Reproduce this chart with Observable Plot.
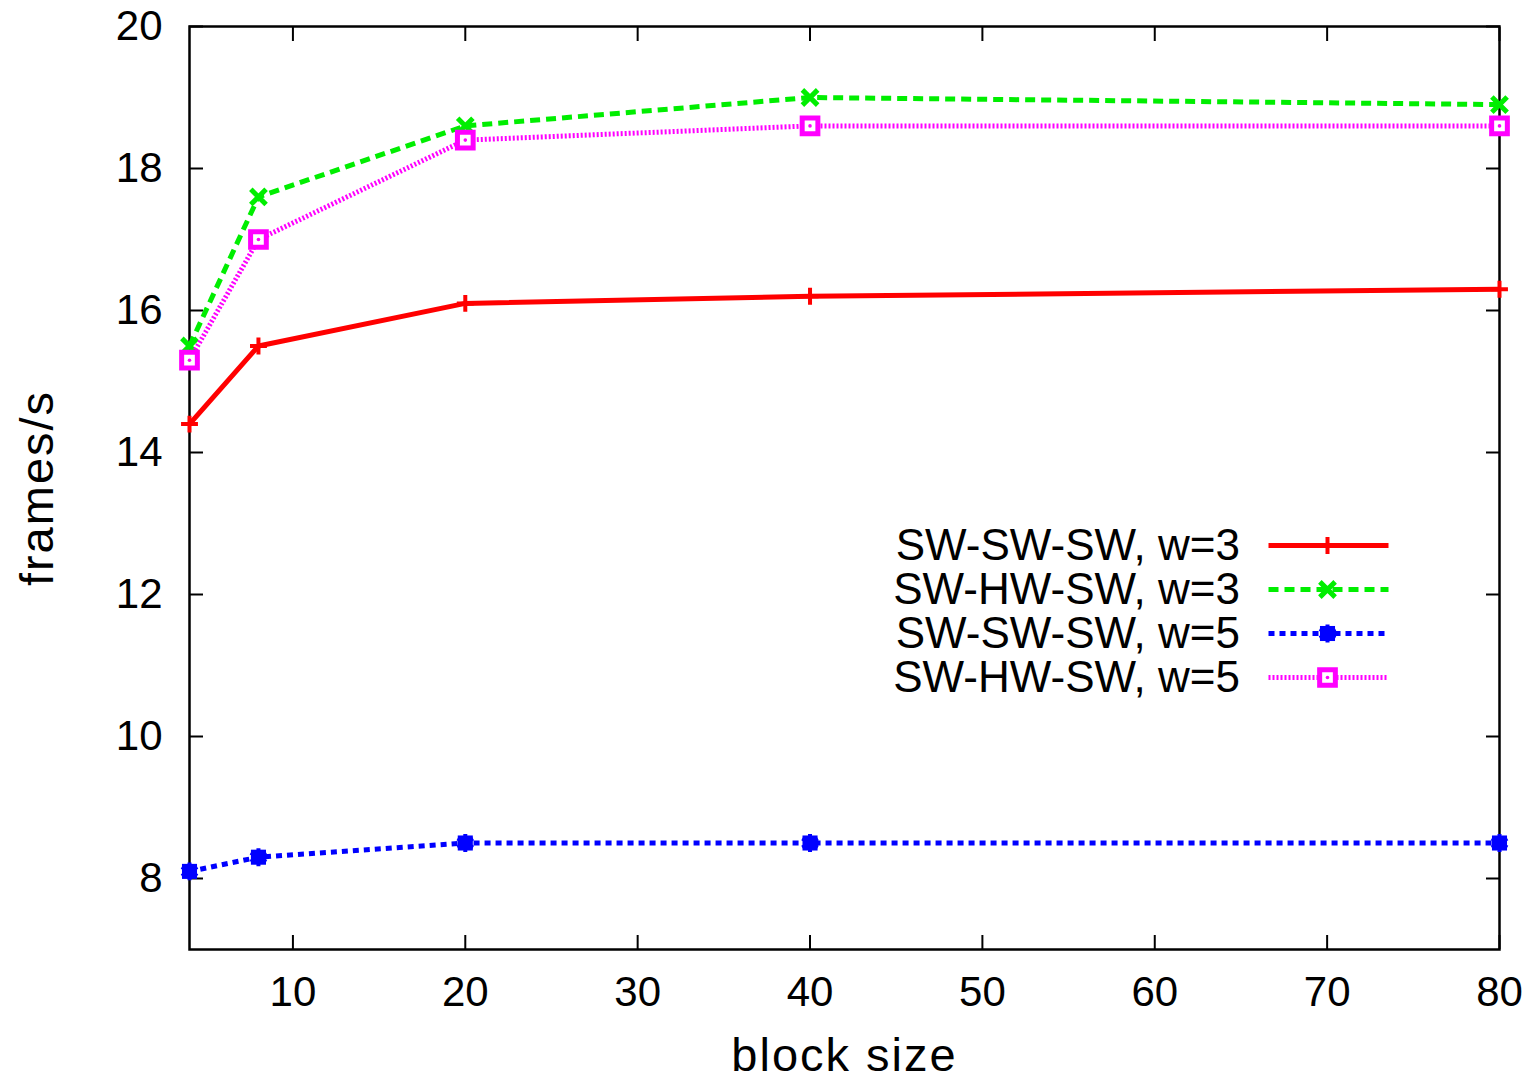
<!DOCTYPE html>
<html>
<head>
<meta charset="utf-8">
<script src="https://cdn.jsdelivr.net/npm/d3@7"></script>
<script src="https://cdn.jsdelivr.net/npm/@observablehq/plot@0.6"></script>
<style>
  body { margin: 0; background: #fff; }
  #wrap { position: relative; width: 1537px; height: 1083px; font-family: "Liberation Sans", Arial, sans-serif; }
  #legend { position: absolute; left: 0; top: 0; width: 1537px; height: 1083px; pointer-events: none; }
  .lrow { position: absolute; left: 0; width: 1240px; text-align: right; font-size: 44px; line-height: 38px; height: 38px; color: #000; }
</style>
</head>
<body>
<div id="wrap"></div>
<script>
// ---- data ----
const blockSize = [4, 8, 20, 40, 80];
const seriesNames = ["SW-SW-SW, w=3", "SW-HW-SW, w=3", "SW-SW-SW, w=5", "SW-HW-SW, w=5"];
const swSwSwW3 = [14.4, 15.5, 16.1, 16.2, 16.3];
const swHwSwW3 = [15.5, 17.6, 18.6, 19.0, 18.9];
const swSwSwW5 = [8.1, 8.3, 8.5, 8.5, 8.5];
const swHwSwW5 = [15.3, 17.0, 18.4, 18.6, 18.6];
const xTicks = [10, 20, 30, 40, 50, 60, 70, 80];
const yTicks = [8, 10, 12, 14, 16, 18, 20];
const xLabel = ["block size"];
const yLabel = ["frames/s"];

// ---- styles ----
const styles = [
  {color: "#ff0000", dash: null, width: 5},
  {color: "#00ee00", dash: "10,6", width: 5},
  {color: "#0000ff", dash: "6,5", width: 5},
  {color: "#ff00ff", dash: "2,2", width: 5}
];
const values = [swSwSwW3, swHwSwW3, swSwSwW5, swHwSwW5];
const rowsFor = (k) => blockSize.map((x, i) => ({x, y: values[k][i], s: seriesNames[k]}));

function markerMarks(k, data) {
  const c = styles[k].color;
  const base = {x: "x", y: "y"};
  if (k === 0) return [Plot.dot(data, {...base, symbol: "plus", r: 5.5, stroke: c, strokeWidth: 4})];
  if (k === 1) return [Plot.dot(data, {...base, symbol: "times", r: 7, stroke: c, strokeWidth: 5})];
  if (k === 2) return [
    Plot.dot(data, {...base, symbol: "square", r: 8.5, fill: c}),
    Plot.dot(data, {...base, symbol: "asterisk", r: 8.5, stroke: c, strokeWidth: 4})
  ];
  return [
    Plot.dot(data, {...base, symbol: "square2", r: 10, stroke: c, fill: "#fff", strokeWidth: 5}),
    Plot.dot(data, {...base, r: 1.8, fill: c})
  ];
}

const marks = [];
for (let k = 0; k < 4; k++) {
  const data = rowsFor(k);
  marks.push(Plot.line(data, {x: "x", y: "y", stroke: styles[k].color, strokeWidth: styles[k].width,
    strokeDasharray: styles[k].dash, strokeLinecap: "butt", strokeLinejoin: "miter"}));
  marks.push(...markerMarks(k, data));
}

const chart = Plot.plot({
  width: 1537,
  height: 1083,
  marginLeft: 189,
  marginRight: 38,
  marginTop: 26,
  marginBottom: 134,
  style: {fontFamily: "'Liberation Sans', Arial, sans-serif", background: "#fff", color: "#000", overflow: "visible"},
  x: {type: "linear", domain: [4, 80]},
  y: {type: "linear", domain: [7, 20]},
  marks: [
    Plot.axisX(xTicks, {anchor: "bottom", tickSize: -14, tickFormat: () => "", strokeWidth: 2, label: null}),
    Plot.axisX(xTicks, {anchor: "top", tickSize: -14, tickFormat: () => "", strokeWidth: 2, label: null}),
    Plot.axisY(yTicks, {anchor: "left", tickSize: -14, tickFormat: () => "", strokeWidth: 2, label: null}),
    Plot.axisY(yTicks, {anchor: "right", tickSize: -14, tickFormat: () => "", strokeWidth: 2, label: null}),
    Plot.axisX(xTicks, {anchor: "bottom", tickSize: 0, tickPadding: 27, fontSize: 42, tickFormat: d3.format("d"), label: null}),
    Plot.axisY(yTicks, {anchor: "left", tickSize: 0, tickPadding: 27, fontSize: 42, tickFormat: d3.format("d"), label: null}),
    Plot.text(xLabel, {text: d => d, frameAnchor: "bottom", textAnchor: "middle", lineAnchor: "middle", dy: 106, fontSize: 47}),
    Plot.text(yLabel, {text: d => d, frameAnchor: "left", textAnchor: "middle", lineAnchor: "middle", dx: -152, rotate: -90, fontSize: 47}),
    Plot.frame({stroke: "#000", strokeWidth: 2.5}),
    ...marks
  ]
});

const wrap = document.getElementById("wrap");
wrap.appendChild(chart);
d3.select(chart).selectAll("text").filter(function() {
  const t = this.textContent; return t === xLabel[0] || t === yLabel[0];
}).style("letter-spacing", "2px");

// ---- legend (HTML overlay) ----
const legend = document.createElement("div");
legend.id = "legend";
const rowY = [545, 589, 633, 677];
seriesNames.forEach((name, k) => {
  const t = document.createElement("div");
  t.className = "lrow";
  t.style.top = (rowY[k] - 19) + "px";
  t.textContent = name;
  legend.appendChild(t);
  const sw = Plot.plot({
    width: 150, height: 40, margin: 0,
    x: {domain: [0, 150]}, y: {domain: [0, 40]},
    axis: null,
    style: {overflow: "visible", background: "transparent"},
    marks: [
      Plot.line([{x: 13, y: 20}, {x: 133, y: 20}], {x: "x", y: "y", stroke: styles[k].color, strokeWidth: styles[k].width, strokeDasharray: styles[k].dash, strokeLinecap: "butt"}),
      ...markerMarks(k, [{x: 72, y: 20}])
    ]
  });
  sw.style.position = "absolute";
  sw.style.left = "1255px";
  sw.style.top = (rowY[k] - 20) + "px";
  legend.appendChild(sw);
});
wrap.appendChild(legend);
</script>
</body>
</html>
